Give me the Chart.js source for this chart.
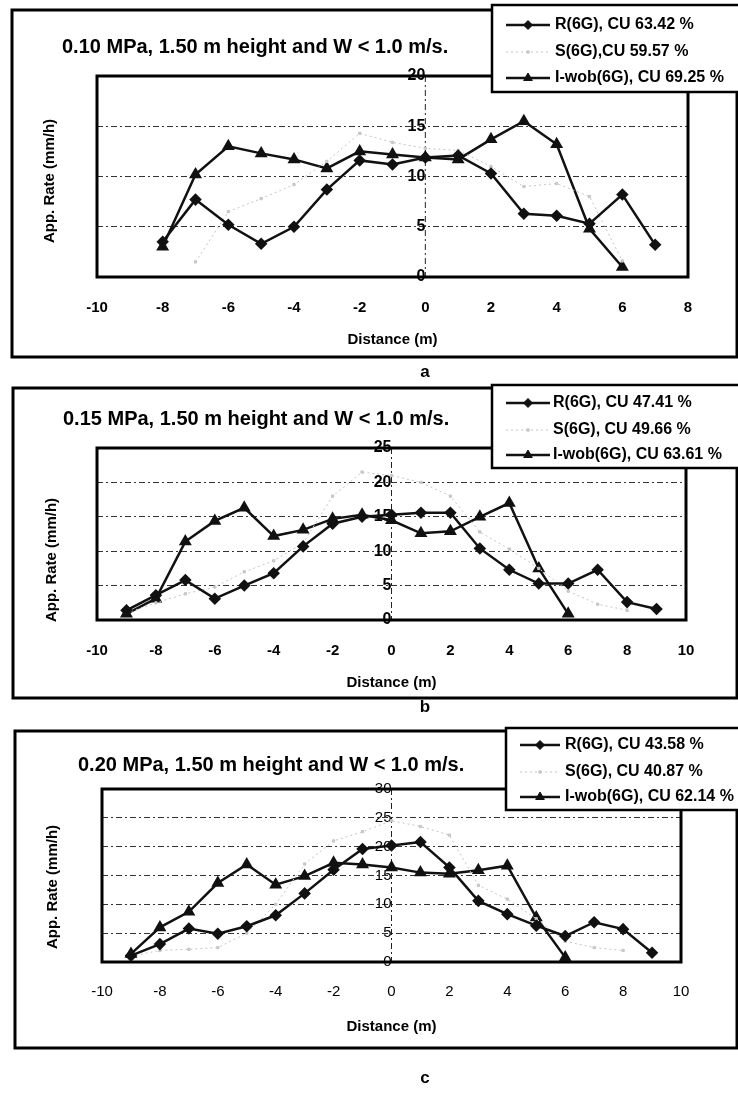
<!DOCTYPE html>
<html>
<head>
<meta charset="utf-8">
<script src="https://cdn.jsdelivr.net/npm/chart.js@4.4.1/dist/chart.umd.min.js"></script>
<style>
    body { margin: 0; background: #fff; width: 738px; height: 1099px; position: relative; overflow: hidden; }
    canvas { position: absolute; left: 0; }
</style>
</head>
<body>
<canvas id="chartA" width="738" height="380" style="top:0px"></canvas>
<canvas id="chartB" width="738" height="340" style="top:380px"></canvas>
<canvas id="chartC" width="738" height="379" style="top:720px"></canvas>
<script>
"use strict";

/* panel a : 0.10 MPa */
var distA = [-8, -7, -6, -5, -4, -3, -2, -1, 0, 1, 2, 3, 4, 5, 6, 7];
var rateRA = [3.5, 7.7, 5.2, 3.3, 5.0, 8.7, 11.6, 11.2, 11.9, 12.1, 10.3, 6.3, 6.1, 5.3, 8.2, 3.2];
var rateSA = [null, 1.5, 6.5, 7.8, 9.2, 11.5, 14.3, 13.4, 12.8, 12.6, 11.0, 9.0, 9.3, 8.0, 1.6, null];
var rateIA = [3.0, 10.2, 13.0, 12.3, 11.7, 10.8, 12.5, 12.2, 11.9, 11.7, 13.7, 15.5, 13.2, 4.8, 1.0, null];
var legendA = ['R(6G), CU 63.42 %', 'S(6G),CU 59.57 %', 'I-wob(6G), CU 69.25 %'];

/* panel b : 0.15 MPa */
var distB = [-9, -8, -7, -6, -5, -4, -3, -2, -1, 0, 1, 2, 3, 4, 5, 6, 7, 8, 9];
var rateRB = [1.4, 3.6, 5.8, 3.1, 5.0, 6.8, 10.7, 14.0, 15.0, 15.3, 15.6, 15.6, 10.4, 7.3, 5.3, 5.3, 7.3, 2.6, 1.6];
var rateSB = [1.0, 2.5, 3.8, 4.8, 7.0, 8.6, 11.2, 18.0, 21.5, 21.0, 20.0, 18.0, 12.8, 10.3, 7.5, 4.2, 2.3, 1.4, null];
var rateIB = [0.9, 3.1, 11.4, 14.4, 16.3, 12.2, 13.1, 14.7, 15.3, 14.5, 12.6, 12.9, 15.0, 17.0, 7.5, 0.9, null, null, null];
var legendB = ['R(6G), CU 47.41 %', 'S(6G), CU 49.66 %', 'I-wob(6G), CU 63.61 %'];

/* panel c : 0.20 MPa */
var distC = [-9, -8, -7, -6, -5, -4, -3, -2, -1, 0, 1, 2, 3, 4, 5, 6, 7, 8, 9];
var rateRC = [1.1, 3.1, 5.8, 4.9, 6.2, 8.1, 11.9, 16.0, 19.6, 20.2, 20.8, 16.4, 10.6, 8.3, 6.3, 4.5, 6.9, 5.7, 1.6];
var rateSC = [1.0, 2.0, 2.2, 2.5, 5.0, 10.0, 17.0, 21.0, 22.6, 24.5, 23.5, 22.0, 13.3, 10.9, 7.5, 3.6, 2.5, 2.0, null];
var rateIC = [1.4, 6.0, 8.7, 13.7, 16.9, 13.4, 14.9, 17.2, 16.9, 16.4, 15.5, 15.3, 15.9, 16.7, 7.7, 0.8, null, null, null];
var legendC = ['R(6G), CU 43.58 %', 'S(6G), CU 40.87 %', 'I-wob(6G), CU 62.14 %'];

var titles = ['0.10 MPa, 1.50 m height and W < 1.0 m/s.',
              '0.15 MPa, 1.50 m height and W < 1.0 m/s.',
              '0.20 MPa, 1.50 m height and W < 1.0 m/s.'];
var xTitle = 'Distance (m)';
var yTitle = 'App. Rate (mm/h)';

var FONT = '"Liberation Sans", Arial, sans-serif';
var AXIS_H = 40;

function points(xs, ys) {
    return xs.map(function (x, i) { return { x: x, y: ys[i] }; });
}

function panelPlugin(p) {
    return {
        id: 'panel',
        beforeDatasetsDraw: function (chart) {
            var ctx = chart.ctx, a = chart.chartArea;
            var x0 = chart.scales.x.getPixelForValue(0);
            ctx.save();
            /* dash-dot line at x = 0 */
            ctx.strokeStyle = '#222';
            ctx.lineWidth = 1;
            ctx.setLineDash([6, 3, 2, 3]);
            ctx.beginPath();
            ctx.moveTo(x0, a.top);
            ctx.lineTo(x0, a.bottom);
            ctx.stroke();
            /* plot frame */
            ctx.setLineDash([]);
            ctx.lineWidth = 3;
            ctx.strokeStyle = '#000';
            ctx.strokeRect(a.left, a.top, a.right - a.left, a.bottom - a.top);
            ctx.restore();
        },
        afterDraw: function (chart) {
            var ctx = chart.ctx, a = chart.chartArea;
            ctx.save();
            /* outer frame */
            ctx.lineWidth = 3;
            ctx.strokeStyle = '#000';
            ctx.strokeRect(p.box.l, p.box.t, 737 - p.box.l, p.box.b - p.box.t);

            /* titles */
            ctx.fillStyle = '#000';
            ctx.textBaseline = 'middle';
            ctx.textAlign = 'left';
            ctx.font = 'bold 20px ' + FONT;
            ctx.fillText(p.title, p.titleX, p.titleY);

            ctx.textAlign = 'center';
            ctx.font = 'bold 15px ' + FONT;
            ctx.fillText(xTitle, (a.left + a.right) / 2, p.xTitleY);
            ctx.save();
            ctx.translate(p.yTitleX, p.yTitleY);
            ctx.rotate(-Math.PI / 2);
            ctx.fillText(yTitle, 0, 0);
            ctx.restore();

            ctx.font = 'bold 17px ' + FONT;
            ctx.fillText(p.tag, 425, p.tagY);

            /* legend box */
            var L = p.legend;
            ctx.fillStyle = '#fff';
            ctx.fillRect(L.x, L.y, 760 - L.x, L.h);
            ctx.lineWidth = 2.5;
            ctx.strokeStyle = '#000';
            ctx.strokeRect(L.x, L.y, 760 - L.x, L.h);
            chart.data.datasets.forEach(function (ds, i) {
                var y = L.y + L.rows[i];
                ctx.strokeStyle = ds.borderColor;
                ctx.lineWidth = ds.borderWidth;
                ctx.setLineDash(ds.borderDash || []);
                ctx.beginPath();
                ctx.moveTo(L.x0, y);
                ctx.lineTo(L.x1, y);
                ctx.stroke();
                ctx.setLineDash([]);
                ctx.fillStyle = ds.pointBackgroundColor;
                ctx.strokeStyle = ds.borderColor;
                ctx.lineWidth = 1;
                Chart.helpers.drawPoint(ctx, { pointStyle: ds.pointStyle, radius: ds.pointRadius, rotation: 0, borderWidth: 1 },
                    (L.x0 + L.x1) / 2, y);
                ctx.fillStyle = '#000';
                ctx.textAlign = 'left';
                ctx.font = 'bold 16px ' + FONT;
                ctx.fillText(ds.label, L.tx, y);
            });
            ctx.restore();
        }
    };
}

function makePanel(id, p, xs, r, s, iw, labels, xMin, xMax, yMax) {
    var ctx = document.getElementById(id).getContext('2d');
    var H = ctx.canvas.height;
    return new Chart(ctx, {
        type: 'line',
        data: {
            datasets: [{
                label: labels[0],
                data: points(xs, r),
                borderColor: '#111',
                borderWidth: 2.5,
                pointStyle: 'rectRot',
                pointRadius: 4.5,
                pointBackgroundColor: '#111',
                pointBorderColor: '#111',
                tension: 0
            }, {
                label: labels[1],
                data: points(xs, s),
                borderColor: '#c4c4c4',
                borderWidth: 1,
                borderDash: [2, 3],
                pointStyle: 'rect',
                pointRadius: 1.6,
                pointBackgroundColor: '#cfcfcf',
                pointBorderColor: '#c4c4c4',
                tension: 0
            }, {
                label: labels[2],
                data: points(xs, iw),
                borderColor: '#111',
                borderWidth: 2.5,
                pointStyle: 'triangle',
                pointRadius: 5,
                pointBackgroundColor: '#111',
                pointBorderColor: '#111',
                tension: 0
            }]
        },
        options: {
            responsive: false,
            animation: false,
            layout: {
                padding: { left: p.plot.l, right: 738 - p.plot.r, top: p.plot.t, bottom: H - p.plot.b - AXIS_H }
            },
            plugins: {
                legend: { display: false },
                tooltip: { enabled: false }
            },
            scales: {
                x: {
                    type: 'linear',
                    min: xMin,
                    max: xMax,
                    grid: { display: false, drawTicks: false },
                    border: { display: false },
                    ticks: { stepSize: 2, color: '#000', padding: p.tickPad,
                             font: { family: FONT, size: 15, weight: p.tickWeight } },
                    afterFit: function (scale) { scale.height = AXIS_H; }
                },
                y: {
                    type: 'linear',
                    position: { x: 0 },
                    min: 0,
                    max: yMax,
                    grid: { color: '#333', lineWidth: 1, drawTicks: false },
                    border: { display: false, dash: [6, 3, 2, 3] },
                    ticks: { stepSize: 5, color: '#000', padding: 17,
                             font: { family: FONT, size: p.yTickSize, weight: p.tickWeight } }
                }
            }
        },
        plugins: [panelPlugin(p)]
    });
}

makePanel('chartA', {
    box: { l: 12, t: 10, b: 357 },
    title: titles[0], titleX: 62, titleY: 47,
    legend: { x: 492, y: 5, h: 87, rows: [20, 47, 73], x0: 506, x1: 550, tx: 555 },
    plot: { l: 97, r: 688, t: 76, b: 277 },
    tickPad: 22, tickWeight: 'bold', yTickSize: 16,
    xTitleY: 340, yTitleX: 50, yTitleY: 181,
    tag: 'a', tagY: 372
}, distA, rateRA, rateSA, rateIA, legendA, -10, 8, 20);

makePanel('chartB', {
    box: { l: 13, t: 8, b: 318 },
    title: titles[1], titleX: 63, titleY: 39,
    legend: { x: 492, y: 5, h: 83, rows: [18, 45, 70], x0: 506, x1: 550, tx: 553 },
    plot: { l: 97, r: 686, t: 68, b: 240 },
    tickPad: 22, tickWeight: 'bold', yTickSize: 16,
    xTitleY: 303, yTitleX: 52, yTitleY: 180,
    tag: 'b', tagY: 327
}, distB, rateRB, rateSB, rateIB, legendB, -10, 10, 25);

makePanel('chartC', {
    box: { l: 15, t: 11, b: 328 },
    title: titles[2], titleX: 78, titleY: 45,
    legend: { x: 506, y: 8, h: 82, rows: [17, 44, 69], x0: 520, x1: 560, tx: 565 },
    plot: { l: 102, r: 681, t: 69, b: 242 },
    tickPad: 21, tickWeight: 'normal', yTickSize: 15,
    xTitleY: 307, yTitleX: 53, yTitleY: 167,
    tag: 'c', tagY: 358
}, distC, rateRC, rateSC, rateIC, legendC, -10, 10, 30);
</script>
</body>
</html>
